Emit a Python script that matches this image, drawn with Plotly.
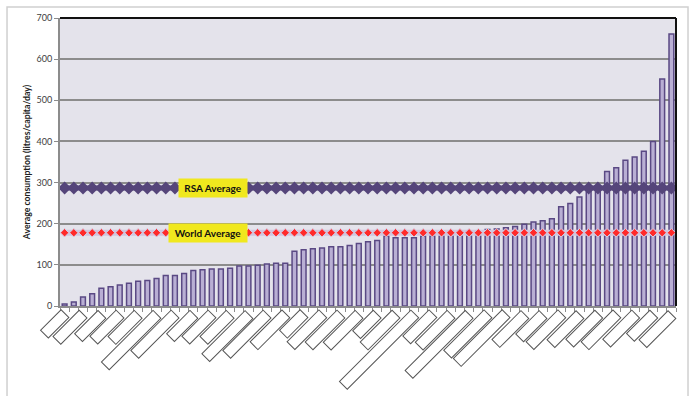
import plotly.graph_objects as go

# ---- data ----
consumption = [5, 10, 22, 30, 43, 47, 51, 55, 60, 62, 67, 74, 74, 79, 86, 88, 90, 90, 92, 97,
               97, 99, 102, 104, 104, 133, 137, 139, 141, 144, 144, 147, 152, 156, 159,
               170, 166, 166, 166, 170, 171, 172, 173, 174, 175, 182, 186, 187, 190, 193,
               199, 204, 207, 212, 241, 249, 265, 287, 292, 327, 336, 354, 362, 376, 400, 552, 661]
rsa_average = 287
world_average = 178
# hidden (redacted) category labels: character counts of every second label
label_chars = [7, 9, 8, 9, 9, 18, 14, 8, 9, 9, 15, 14, 11, 7, 11, 11, 11, 7, 11, 25,
               9, 11, 21, 14, 17, 10, 8, 11, 10, 10, 11, 10, 8, 10]
y_title = "Average consumption (litres/capita/day)"

n = len(consumption)
cats = list(range(n))

FONT = "Lato"
fig = go.Figure()
fig.add_trace(go.Bar(
    x=cats, y=consumption, width=0.52,
    marker=dict(color="#B9AFD4", line=dict(color="#5A4984", width=1.5)),
    showlegend=False,
))
fig.add_trace(go.Scatter(
    x=cats, y=[world_average] * n, mode="lines+markers",
    line=dict(color="#CEC7E0", width=6),
    marker=dict(symbol="diamond", size=6.5, color="#FF2A2A", line=dict(color="#D6CDE6", width=1)),
    showlegend=False,
))
fig.add_trace(go.Scatter(
    x=cats, y=[rsa_average] * n, mode="lines+markers",
    line=dict(color="#55457A", width=5),
    marker=dict(symbol="diamond", size=10, color="#55457A"),
    showlegend=False,
))

annotations = [
    dict(x=20, y=rsa_average, xref="x", yref="y", text="<b>RSA Average</b>", showarrow=False,
         xanchor="right", yanchor="middle", bgcolor="#F0E81E", width=64, height=14, borderpad=2,
         font=dict(family=FONT, size=10, color="#111")),
    dict(x=20, y=world_average, xref="x", yref="y", text="<b>World Average</b>", showarrow=False,
         xanchor="right", yanchor="middle", bgcolor="#F0E81E", width=74, height=14, borderpad=2,
         font=dict(family=FONT, size=10, color="#111")),
]
for i, nch in enumerate(label_chars):
    annotations.append(dict(
        x=2 * i, y=-0.012, xref="x", yref="paper", text="\u00a0", showarrow=False,
        textangle=-45, width=nch * 4, height=10, borderpad=0, borderwidth=1,
        bordercolor="#555555", bgcolor="white", xanchor="right", yanchor="top", xshift=5,
        font=dict(size=6),
    ))

shapes = [
    # outer light frame
    dict(type="rect", xref="paper", yref="paper", x0=-0.086, x1=1.0195, y0=-0.34, y1=1.038,
         line=dict(color="#D0D0D0", width=1.5), fillcolor="rgba(0,0,0,0)", layer="below"),
    # black top and right plot borders
    dict(type="line", xref="paper", yref="paper", x0=0, x1=1, y0=1, y1=1,
         line=dict(color="#111111", width=2)),
    dict(type="line", xref="paper", yref="paper", x0=1, x1=1, y0=0, y1=1,
         line=dict(color="#111111", width=2)),
]

fig.update_layout(
    width=694, height=396,
    margin=dict(l=60, r=18, t=16, b=89.5),
    paper_bgcolor="white", plot_bgcolor="#E4E3EB",
    annotations=annotations, shapes=shapes,
    font=dict(family=FONT, color="#404040"),
)
fig.update_xaxes(
    range=[-0.5, n - 0.5], showgrid=False, zeroline=False, showticklabels=False,
    showline=True, linecolor="#8C8C8C", linewidth=2,
    ticks="outside", tick0=-0.5, dtick=1, ticklen=4, tickcolor="#8C8C8C", tickwidth=1,
)
fig.update_yaxes(
    range=[0, 700], dtick=100, showgrid=True, gridcolor="#8C8C8C", gridwidth=1.5,
    zeroline=False, showline=True, linecolor="#8C8C8C", linewidth=2,
    ticks="outside", ticklen=4, tickcolor="#8C8C8C",
    tickfont=dict(family=FONT, size=9, color="#404040"),
    title=dict(text="<b>" + y_title + "</b>", font=dict(family=FONT, size=8.7, color="#222"), standoff=4),
)

fig.write_html("out.html")
